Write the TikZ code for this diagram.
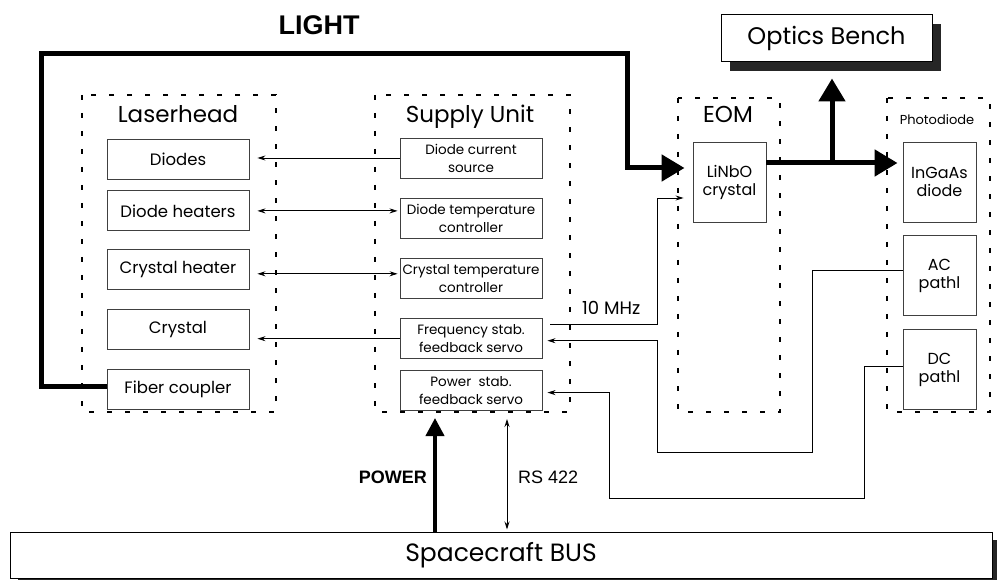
\documentclass[tikz,border=0pt]{standalone}
\usepackage{fontspec}
\setmainfont{Poppins}
\newfontfamily\arialfont{Liberation Sans}
\usetikzlibrary{arrows.meta, positioning, shadows}

\begin{document}
\begin{tikzpicture}[
    x=1pt, y=-1pt,
    >={Stealth[length=8pt,width=5pt]},
    group/.style={draw, dash pattern=on 5pt off 13pt, line width=2.5pt},
    grouptitle/.style={anchor=base, inner sep=0pt, font=\fontsize{23}{25}\selectfont},
    block/.style={rectangle, draw=black!75, line width=0.9pt, align=center, inner sep=2pt, font=\fontsize{16.5}{19}\selectfont},
    lasbox/.style={block, minimum width=142pt, minimum height=40pt},
    supbox/.style={block, minimum width=142pt, minimum height=40pt, font=\fontsize{13.5}{18}\selectfont},
    pdbox/.style={block, minimum width=73pt, minimum height=80pt, font=\fontsize{16}{18}\selectfont},
    shadowbox/.style={block, draw=black, line width=1pt, fill=white, font=\fontsize{24}{26}\selectfont,
        drop shadow={shadow xshift=#1, shadow yshift=-#1, fill=black!85, opacity=1}},
    shadowbox/.default=9pt,
    tagtext/.style={inner sep=0pt, font=\arialfont\fontsize{18}{20}\selectfont},
    wire/.style={line width=0.8pt},
    lightarrow/.style={-{Triangle[length=23pt,width=26pt]}, line width=5pt},
    powerarrow/.style={-{Triangle[length=18pt,width=18pt]}, line width=4pt},
]
    \useasboundingbox (0,0) rectangle (997,580);

    % dashed units
    \draw[group] (82,95) rectangle (276,412);
    \draw[group] (375,95) rectangle (570,412);
    \draw[group] (678,98) rectangle (780,412);
    \draw[group] (887,98) rectangle (990,412);

    \node[grouptitle] (lhtitle) at (178,123) {Laserhead};
    \node[grouptitle] (sutitle) at (470,123) {Supply Unit};
    \node[grouptitle] (eomtitle) at (728,123) {EOM};
    \node[grouptitle, font=\fontsize{13}{15}\selectfont] (pdtitle) at (937,125) {Photodiode};

    % laserhead
    \node[lasbox] (diodes) at (178,159) {Diodes};
    \node[lasbox, below=11pt of diodes] (dheat) {Diode heaters};
    \node[lasbox, below=18pt of dheat] (cheat) {Crystal heater};
    \node[lasbox, below=19pt of cheat] (crys) {Crystal};
    \node[lasbox, below=19pt of crys] (fiber) {Fiber coupler};

    % supply unit
    \node[supbox] (dcs) at (471,158) {Diode current\\source};
    \node[supbox, below=20pt of dcs] (dtc) {Diode temperature\\controller};
    \node[supbox, below=19pt of dtc] (ctc) {Crystal temperature\\controller};
    \node[supbox, below=19pt of ctc] (fss) {Frequency stab.\\feedback servo};
    \node[supbox, below=11pt of fss] (pss) {Power\ \ stab.\\feedback servo};

    % EOM and photodiode
    \node[pdbox] (lnb) at (729.5,182) {LiNbO\\crystal};
    \node[pdbox] (ing) at (939.5,182) {InGaAs\\diode};
    \node[pdbox, below=13pt of ing] (acp) {AC\\pathl};
    \node[pdbox, below=13pt of acp] (dcp) {DC\\pathl};

    \node[shadowbox, minimum width=211pt, minimum height=47pt] (ob) at (826.5,38.5) {Optics Bench};
    \node[shadowbox=8pt, minimum width=982pt, minimum height=46pt, font=\fontsize{25}{27}\selectfont] (bus) at (501,555) {Spacecraft BUS};

    % light
    \draw[lightarrow, shorten >=8pt] ([yshift=3pt]fiber.west) -- ++(-65,0) |- ++(586,-333) |- ([yshift=14pt]lnb.west);
    \node[tagtext, font=\arialfont\bfseries\fontsize{27}{30}\selectfont, anchor=base] (light) at (319,35) {LIGHT};
    \draw[lightarrow, shorten >=5pt] ([yshift=19pt]lnb.east) -- ([yshift=19pt]ing.west);
    \coordinate (split) at (832,163);
    \draw[lightarrow, shorten >=16pt] (split) -- (split |- ob.south);

    % laserhead links
    \draw[wire, ->, shorten >=8pt] (dcs.west) -- (dcs.west -| diodes.east);
    \draw[wire, <->, shorten <=8pt, shorten >=2pt] (dheat.east) -- (dheat.east -| dtc.west);
    \draw[wire, <->, shorten <=8pt, shorten >=2pt] ([yshift=-4pt]cheat.east) -- ([yshift=-4pt]cheat.east -| ctc.west);
    \draw[wire, ->, shorten >=8pt] (fss.west) -- (fss.west -| crys.east);

    % modulation and feedback
    \draw[wire, ->, shorten >=9pt] ([xshift=8pt,yshift=14pt]fss.east) -- ++(107,0) |- ([yshift=-16pt]lnb.west);
    \node[anchor=base west, inner sep=0pt, font=\fontsize{18}{20}\selectfont] (mhz) at (582,315) {10 MHz};
    \draw[wire, ->, shorten >=5pt] ([yshift=5pt]acp.west) -- ++(-90,0) -- ++(0,181) -- ++(-155,0) |- ([yshift=-2pt]fss.east);
    \draw[wire, ->, shorten >=5pt] ([yshift=3pt]dcp.west) -- ++(-38,0) -- ++(0,132) -- ++(-255,0) |- ([yshift=-2pt]pss.east);

    % bus
    \coordinate (pwrtip) at (435,418);
    \draw[powerarrow] (bus.north -| pwrtip) -- (pwrtip);
    \node[tagtext, font=\arialfont\bfseries\fontsize{18}{20}\selectfont, anchor=base east] (power) at (427,483) {POWER};
    \coordinate (rstip) at (507,419);
    \draw[wire, <->, shorten >=2pt] (rstip) -- (bus.north -| rstip);
    \node[tagtext, anchor=base west] (rs) at (518,483) {RS 422};
\end{tikzpicture}
\end{document}
